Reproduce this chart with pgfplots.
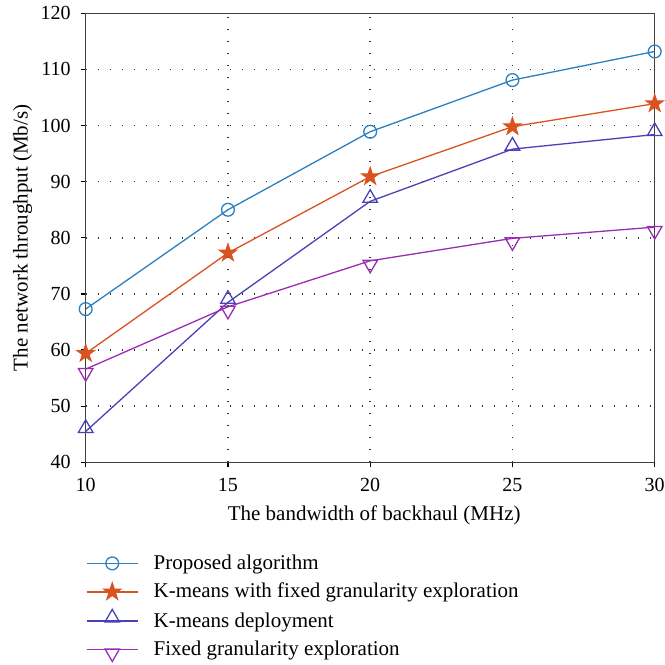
\documentclass[border=0pt]{standalone}
\usepackage{fontspec}
\setmainfont{Liberation Serif}
\usepackage{pgfplots}
\pgfplotsset{compat=1.18}
\definecolor{cA}{HTML}{2A80C0}
\definecolor{cB}{HTML}{D9521F}
\definecolor{cC}{HTML}{4B40B8}
\definecolor{cD}{HTML}{9A2DB3}
\pgfdeclareplotmark{fstar}{%
  \pgfpathmoveto{\pgfpointpolar{90}{\pgfplotmarksize}}%
  \pgfpathlineto{\pgfpointpolar{126}{0.382\pgfplotmarksize}}%
  \pgfpathlineto{\pgfpointpolar{162}{\pgfplotmarksize}}%
  \pgfpathlineto{\pgfpointpolar{198}{0.382\pgfplotmarksize}}%
  \pgfpathlineto{\pgfpointpolar{234}{\pgfplotmarksize}}%
  \pgfpathlineto{\pgfpointpolar{270}{0.382\pgfplotmarksize}}%
  \pgfpathlineto{\pgfpointpolar{306}{\pgfplotmarksize}}%
  \pgfpathlineto{\pgfpointpolar{342}{0.382\pgfplotmarksize}}%
  \pgfpathlineto{\pgfpointpolar{18}{\pgfplotmarksize}}%
  \pgfpathlineto{\pgfpointpolar{54}{0.382\pgfplotmarksize}}%
  \pgfpathclose
  \pgfusepathqfillstroke}
\begin{document}
\begin{tikzpicture}
\begin{axis}[
  at={(0,0)}, anchor=south west,
  scale only axis, width=284.5pt, height=224.5pt,
  xmin=10, xmax=30, ymin=40, ymax=120,
  xtick={10,15,20,25,30}, ytick={40,50,...,120},
  tick align=outside, tick pos=left, major tick length=2.5pt,
  tick style={black, line width=0.6pt},
  axis line style={line width=0.6pt, black!75},
  grid=major,
  grid style={black!80, line width=0.7pt, dash pattern=on 0.7pt off 5.3pt},
  /pgf/number format/assume math mode=true,
  ticklabel style={font=\fontsize{10}{12}\selectfont},
  yticklabel style={xshift=-1.5pt},
  xticklabel style={yshift=-2pt},
  label style={font=\fontsize{10.5}{12}\selectfont},
  xlabel={The bandwidth of backhaul (MHz)},
  ylabel={The network throughput (Mb/s)},
  xlabel style={at={(axis description cs:0.5,0)}, anchor=base, yshift=-28.9pt, xshift=2pt},
  ylabel style={at={(axis description cs:0,0.5)}, anchor=center, yshift=31.6pt},
  every axis plot/.append style={line width=0.65pt},
  legend style={draw=none, fill=none, at={(axis description cs:0,0)}, anchor=north west,
    xshift=0pt, yshift=-44.85pt, inner sep=0pt, row sep=3.25pt, column sep=7.6pt,
    font=\fontsize{10.5}{12}\selectfont,
    nodes={inner sep=0pt, text height=8.5pt, text depth=2.5pt}},
  legend cell align=left,
  legend image code/.code={\draw[mark repeat=2,mark phase=2,#1] plot coordinates {(0pt,0pt)(12.75pt,0pt)(25.5pt,0pt)};},
]
\addplot[cA, mark=o, mark size=3.2pt] coordinates {(10,67.3)(15,85.0)(20,98.9)(25,108.1)(30,113.2)};
\addlegendentry{Proposed algorithm}
\addplot[cB, mark=fstar, mark size=4.4pt, mark options={fill=cB}] coordinates {(10,59.4)(15,77.3)(20,90.9)(25,99.8)(30,103.9)};
\addlegendentry{K-means with fixed granularity exploration}
\addplot[cC, mark=triangle, mark size=4.2pt, mark options={yshift=1.6pt}] coordinates {(10,45.5)(15,68.5)(20,86.5)(25,95.8)(30,98.4)};
\addlegendentry{K-means deployment}
\addplot[cD, mark=triangle, mark size=4.2pt, mark options={rotate=180, yshift=1.8pt}] coordinates {(10,56.6)(15,67.7)(20,75.9)(25,79.9)(30,81.9)};
\addlegendentry{Fixed granularity exploration}
\end{axis}
\pgfresetboundingbox
\path (-42.85pt,-101.35pt) rectangle (289.5pt,231.15pt);
\end{tikzpicture}
\end{document}
